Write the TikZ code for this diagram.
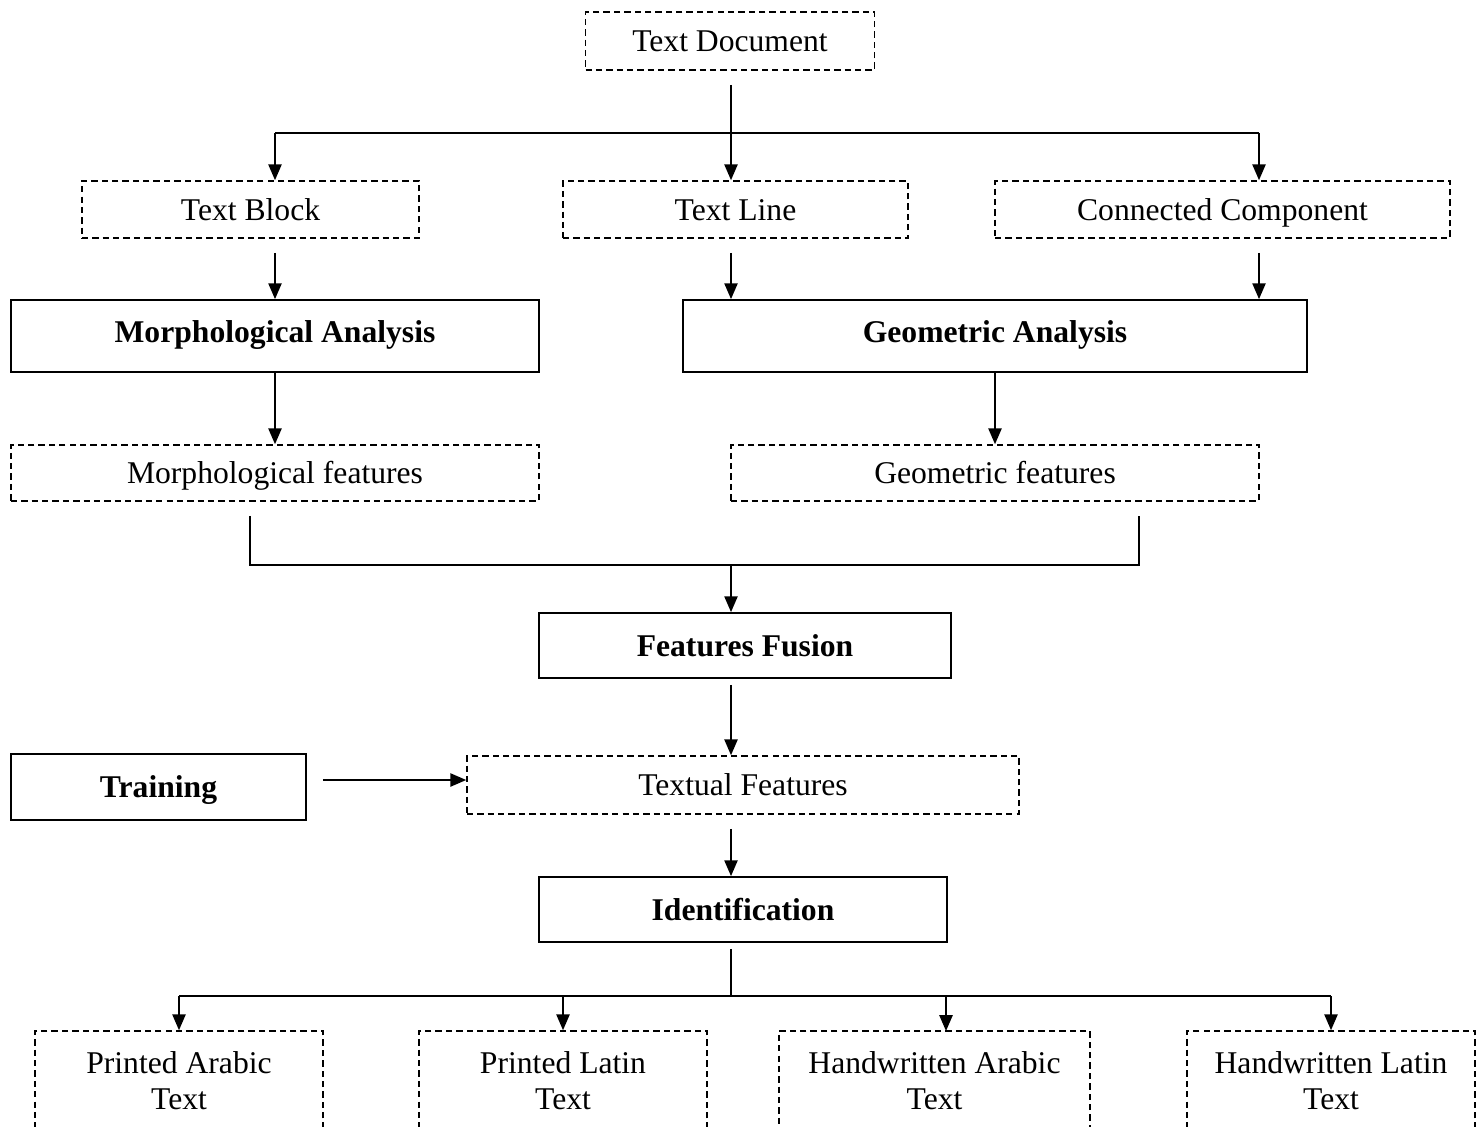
\documentclass[tikz,border=0pt]{standalone}
\usepackage{fontspec}
\setmainfont{Liberation Serif}
\usetikzlibrary{arrows.meta,
  calc,
  positioning
}

\begin{document}
\begin{tikzpicture}[
    >={Triangle[length=9pt,width=7.5pt]},
    every node/.style={font=\fontsize{18}{20.4}\selectfont, inner sep=0pt, align=center},
    oneline/.style={text height=16pt, text depth=4pt},
    dashbox/.style={draw, dashed, dash pattern=on 3.6pt off 2.3pt, line width=0.9},
    solidbox/.style={draw, line width=1, font=\fontsize{18}{20.4}\selectfont\bfseries},
    link/.style={line width=1}
  ]
  \clip (0, 0) rectangle (29.6, -22.52);
  \useasboundingbox (0, 0) rectangle (29.6, -22.52);

  \node[dashbox, oneline, minimum width=5.78cm, minimum height=1.16cm] (doc) at (14.6, -0.82) {Text Document};

  \node[dashbox, oneline, minimum width=6.74cm, minimum height=1.14cm] (block) at (5.01, -4.19) {Text Block};
  \node[dashbox, oneline, minimum width=6.9cm, minimum height=1.14cm] (line) at (14.71, -4.19) {Text Line};
  \node[dashbox, oneline, minimum width=9.1cm, minimum height=1.14cm] (comp) at (24.45, -4.19) {Connected Component};

  \node[solidbox, oneline, text depth=9pt, minimum width=10.56cm, minimum height=1.44cm] (morph) at (5.5, -6.72) {Morphological Analysis};
  \node[solidbox, oneline, text depth=9pt, minimum width=12.48cm, minimum height=1.44cm] (geom) at (19.9, -6.72) {Geometric Analysis};

  \node[dashbox, oneline, minimum width=10.56cm, minimum height=1.12cm] (morphf) at (5.5, -9.46) {Morphological features};
  \node[dashbox, oneline, minimum width=10.56cm, minimum height=1.12cm] (geomf) at (19.9, -9.46) {Geometric features};

  \node[solidbox, oneline, minimum width=8.24cm, minimum height=1.3cm] (fusion) at (14.9, -12.91) {Features Fusion};

  \node[solidbox, oneline, minimum width=5.9cm, minimum height=1.32cm] (train) at (3.17, -15.74) {Training};
  \node[dashbox, oneline, minimum width=11.04cm, minimum height=1.16cm] (textual) at (14.86, -15.7) {Textual Features};

  \node[solidbox, oneline, minimum width=8.16cm, minimum height=1.3cm] (ident) at (14.86, -18.19) {Identification};

  \node[dashbox, minimum width=5.76cm, minimum height=2.0cm] (parab) at (3.58, -21.62) {Printed Arabic\\Text};
  \node[dashbox, minimum width=5.76cm, minimum height=2.0cm] (plat) at (11.26, -21.62) {Printed Latin\\Text};
  \node[dashbox, minimum width=6.22cm, minimum height=2.0cm] (harab) at (18.69, -21.62) {Handwritten Arabic\\Text};
  \node[dashbox, minimum width=5.76cm, minimum height=2.0cm] (hlat) at (26.62, -21.62) {Handwritten Latin\\Text};

  \coordinate (DocOut) at (14.62, -1.7);
  \coordinate (SplitL) at (5.5, -2.66);
  \coordinate (SplitR) at (25.18, -2.66);
  \draw[->, link] (DocOut) -- (DocOut |- line.north);
  \draw[link] (SplitL) -- (SplitR);
  \draw[->, link] (SplitL) -- (SplitL |- block.north);
  \draw[->, link] (SplitR) -- (SplitR |- comp.north);

  \draw[->, link] ($(block.south -| morph.north) + (0, -0.28)$) -- (morph.north);
  \draw[->, link] ($(line.south -| DocOut) + (0, -0.28)$) -- (DocOut |- geom.north);
  \draw[->, link] ($(comp.south -| SplitR) + (0, -0.28)$) -- (SplitR |- geom.north);

  \draw[->, link] (morph.south) -- (morphf.north);
  \draw[->, link] (geom.south) -- (geomf.north);

  \coordinate (MergeL) at (5.0, -11.3);
  \coordinate (MergeR) at (22.78, -11.3);
  \draw[link] ($(morphf.south -| MergeL) + (0, -0.28)$) -- (MergeL) -- (MergeR)
  -- ($(geomf.south -| MergeR) + (0, -0.28)$);
  \draw[->, link] (MergeL -| DocOut) -- (DocOut |- fusion.north);

  \draw[->, link] ($(fusion.south -| DocOut) + (0, -0.12)$) -- (DocOut |- textual.north);
  \coordinate (TrainOut) at ($(train.east) + (0.32, 0.14)$);
  \draw[->, link] (TrainOut) -- (TrainOut -| textual.west);
  \draw[->, link] ($(textual.south -| DocOut) + (0, -0.28)$) -- (DocOut |- ident.north);

  \coordinate (IdOut) at ($(ident.south -| DocOut) + (0, -0.12)$);
  \coordinate (SplitB) at (14.62, -19.92);
  \draw[link] (IdOut) -- (SplitB);
  \draw[link] (SplitB -| parab.north) -- (SplitB -| hlat.north);
  \draw[->, link] (SplitB -| parab.north) -- (parab.north);
  \draw[->, link] (SplitB -| plat.north) -- (plat.north);
  \draw[->, link] (18.92, -19.92) -- (18.92, -20.62);
  \draw[->, link] (SplitB -| hlat.north) -- (hlat.north);
\end{tikzpicture}
\end{document}
